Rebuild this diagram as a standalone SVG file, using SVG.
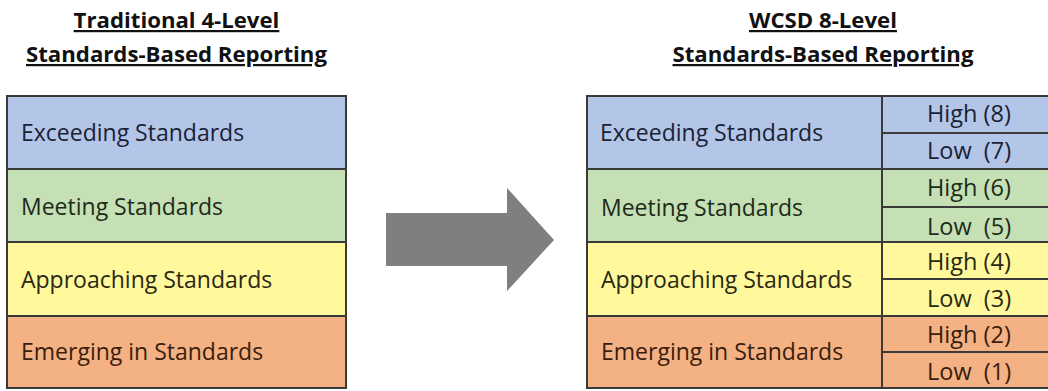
<svg xmlns="http://www.w3.org/2000/svg" width="1048" height="391" viewBox="0 0 1048 391">
  <style>
    .title { font-family: "Open Sans", "Liberation Sans", sans-serif; font-weight: bold; font-size: 22.2px; fill: #111; text-anchor: middle; text-decoration: underline; }
    .label { font-family: "Open Sans", "Liberation Sans", sans-serif; font-size: 23px; }
    .sub { font-family: "Open Sans", "Liberation Sans", sans-serif; font-size: 23.5px; }
    .cell { stroke: #3a3a3a; stroke-width: 2; }
    .exc { fill: #b4c6e7; }
    .mee { fill: #c5e0b4; }
    .app { fill: #fff89c; }
    .eme { fill: #f4b183; }
    .t-exc { fill: #1a2236; }
    .t-mee { fill: #1e2b1a; }
    .t-app { fill: #2a2812; }
    .t-eme { fill: #3a1d0d; }
  </style>

  <rect width="1048" height="391" fill="#ffffff"/>

  <!-- Headings -->
  <g id="title-traditional">
    <text class="title" x="176.5" y="28">Traditional 4-Level</text>
    <text class="title" x="176.5" y="62">Standards-Based Reporting</text>
  </g>
  <g id="title-wcsd">
    <text class="title" x="823" y="28">WCSD 8-Level</text>
    <text class="title" x="823" y="62">Standards-Based Reporting</text>
  </g>

  <!-- Traditional 4-level table -->
  <g id="trad-exceeding">
    <rect class="cell exc" x="7" y="96" width="339" height="73"/>
    <text class="label t-exc" x="21" y="141">Exceeding Standards</text>
  </g>
  <g id="trad-meeting">
    <rect class="cell mee" x="7" y="169" width="339" height="73"/>
    <text class="label t-mee" x="21" y="215">Meeting Standards</text>
  </g>
  <g id="trad-approaching">
    <rect class="cell app" x="7" y="242" width="339" height="74"/>
    <text class="label t-app" x="21" y="288">Approaching Standards</text>
  </g>
  <g id="trad-emerging">
    <rect class="cell eme" x="7" y="316" width="339" height="72"/>
    <text class="label t-eme" x="21" y="360">Emerging in Standards</text>
  </g>

  <!-- Transition arrow -->
  <g id="connectors">
    <polygon points="386,213 507,213 507,188 554,240 507,291 507,266 386,266" fill="#7f7f7f"/>
  </g>

  <!-- WCSD 8-level table -->
  <g id="wcsd-exceeding">
    <rect class="cell exc" x="587" y="96" width="295" height="73"/>
    <rect class="cell exc" x="882" y="96" width="170" height="37"/>
    <rect class="cell exc" x="882" y="133" width="170" height="36"/>
    <text class="label t-exc" x="600" y="141">Exceeding Standards</text>
    <text class="sub t-exc" x="927" y="122">High (8)</text>
    <text class="sub t-exc" x="927" y="159" xml:space="preserve">Low  (7)</text>
  </g>
  <g id="wcsd-meeting">
    <rect class="cell mee" x="587" y="169" width="295" height="73"/>
    <rect class="cell mee" x="882" y="169" width="170" height="38"/>
    <rect class="cell mee" x="882" y="207" width="170" height="35"/>
    <text class="label t-mee" x="601" y="216">Meeting Standards</text>
    <text class="sub t-mee" x="927" y="196">High (6)</text>
    <text class="sub t-mee" x="927" y="235" xml:space="preserve">Low  (5)</text>
  </g>
  <g id="wcsd-approaching">
    <rect class="cell app" x="587" y="242" width="295" height="74"/>
    <rect class="cell app" x="882" y="242" width="170" height="37"/>
    <rect class="cell app" x="882" y="279" width="170" height="37"/>
    <text class="label t-app" x="601" y="288">Approaching Standards</text>
    <text class="sub t-app" x="927" y="270">High (4)</text>
    <text class="sub t-app" x="927" y="307" xml:space="preserve">Low  (3)</text>
  </g>
  <g id="wcsd-emerging">
    <rect class="cell eme" x="587" y="316" width="295" height="72"/>
    <rect class="cell eme" x="882" y="316" width="170" height="36"/>
    <rect class="cell eme" x="882" y="352" width="170" height="36"/>
    <text class="label t-eme" x="601" y="360">Emerging in Standards</text>
    <text class="sub t-eme" x="927" y="343">High (2)</text>
    <text class="sub t-eme" x="927" y="380" xml:space="preserve">Low  (1)</text>
  </g>
</svg>
